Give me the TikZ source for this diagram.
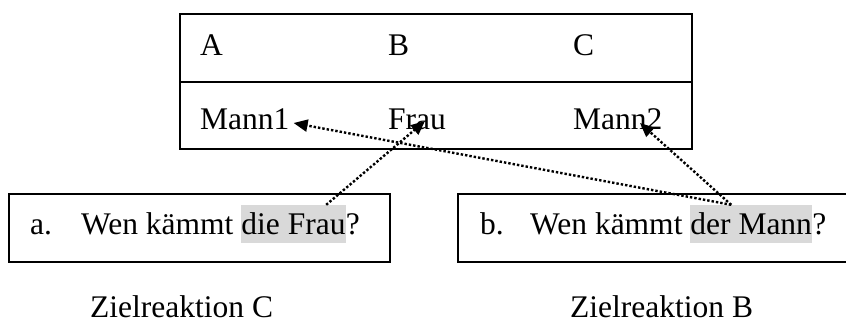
\documentclass[tikz,border=0pt]{standalone}
\usepackage{fontspec}
\setmainfont{Liberation Serif}
\usetikzlibrary{arrows.meta,calc}
\definecolor{hlgray}{RGB}{217,217,217}
\begin{document}
\begin{tikzpicture}[x=1pt,y=-1pt,
  txt/.style={anchor=base west, inner sep=0pt, font=\fontsize{31.5}{36}\selectfont},
  hl/.style={txt, fill=hlgray, text height=29pt, text depth=9pt},
  frame/.style={draw, line width=1.8pt},
  link/.style={line width=2.4pt, dash pattern=on 2.4pt off 2pt, -{Triangle[length=14pt,width=12pt]}}]
\useasboundingbox (0,0) rectangle (846,325);
% table
\draw[frame] (180,14) rectangle (692,149);
\draw[frame] (180,82) -- (692,82);
\node[txt] (A) at (200,55) {A};
\node[txt] (B) at (388,55) {B};
\node[txt] (C) at (573,55) {C};
\node[txt] (m1) at (200,129) {Mann1};
\node[txt] (fr) at (388,129) {Frau};
\node[txt] (m2) at (573,129) {Mann2};
% question boxes
\draw[frame] (9,194) rectangle (390,262);
\draw[frame] (852,194) -- (458,194) -- (458,262) -- (852,262);
\node[txt] (la) at (30,234) {a.};
\node[txt] (qa) at (81,234) {Wen kämmt};
\node[hl] (ha) at ($(qa.base east)+(7.5,0)$) {die Frau};
\node[txt] (qma) at (ha.base east) {?};
\node[txt] (lb) at (480,234) {b.};
\node[txt] (qb) at (530,234) {Wen kämmt};
\node[hl] (hb) at ($(qb.base east)+(7.5,0)$) {der Mann};
\node[txt] (qmb) at (hb.base east) {?};
% captions
\node[txt] (za) at (90,317) {Zielreaktion C};
\node[txt] (zb) at (570,317) {Zielreaktion B};
% connectors
\coordinate (sa) at ($(ha.north west)+(85,0)$);
\coordinate (ta) at ($(fr.base west)+(37,-8)$);
\coordinate (sb) at ($(hb.north west)+(41,0)$);
\coordinate (t1) at ($(m1.base east)+(4,-6)$);
\coordinate (t2) at ($(m2.base west)+(67,-6)$);
\draw[link] (sa) -- (ta);
\draw[link] (sb) -- (t1);
\draw[link] (sb) -- (t2);
\end{tikzpicture}
\end{document}
